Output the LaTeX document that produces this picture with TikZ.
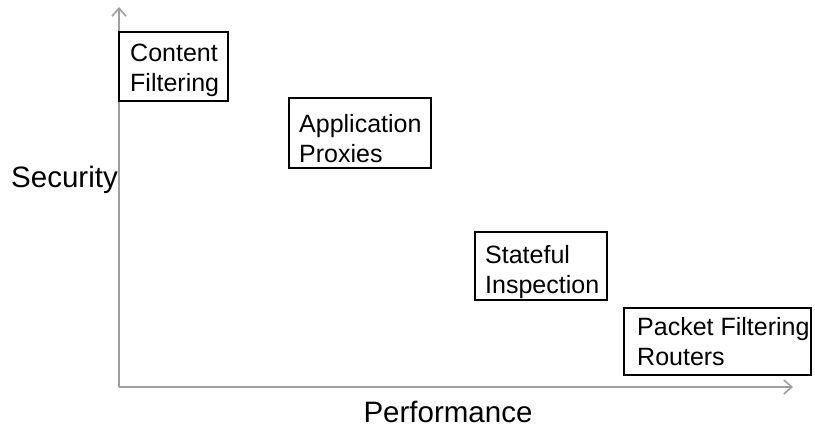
\documentclass[tikz,border=0pt]{standalone}
\usepackage{fontspec}
\setmainfont{Liberation Sans}
\usetikzlibrary{arrows.meta}
\begin{document}
\begin{tikzpicture}[x=1pt,y=-1pt,
  axis/.style={draw=gray!75, line width=2pt, -{Straight Barb[length=8pt,width=14pt,line width=1.6pt]}},
  boxline/.style={line width=1.8pt},
  lbl/.style={font=\fontsize{25}{30}\selectfont, align=left, anchor=north west, inner sep=0pt},
  axlbl/.style={font=\fontsize{29.5}{34}\selectfont, inner sep=0pt}]
\useasboundingbox (0,0) rectangle (815,428);
\coordinate (o) at (119,387);
\coordinate (ytop) at (119,7);
\coordinate (xend) at (793,387);
\draw[axis] (o) -- (ytop);
\draw[axis] (o) -- (xend);
% boxes
\draw[boxline] (119,32) rectangle (228,101);
\node[lbl] (cf) at (130,44) {Content\\Filtering};
\draw[boxline] (289,98) rectangle (431,168);
\node[lbl] (ap) at (299,114) {Application\\Proxies};
\draw[boxline] (475,232) rectangle (607,300);
\node[lbl] (si) at (485,245) {Stateful\\Inspection};
\draw[boxline] (624,308) rectangle (811,375);
\node[lbl] (pf) at (637,317) {Packet Filtering\\Routers};
\node[axlbl, anchor=base west] (sec) at (11,187) {Security};
\node[axlbl, anchor=base] (perf) at (448,422) {Performance};
\end{tikzpicture}
\end{document}
